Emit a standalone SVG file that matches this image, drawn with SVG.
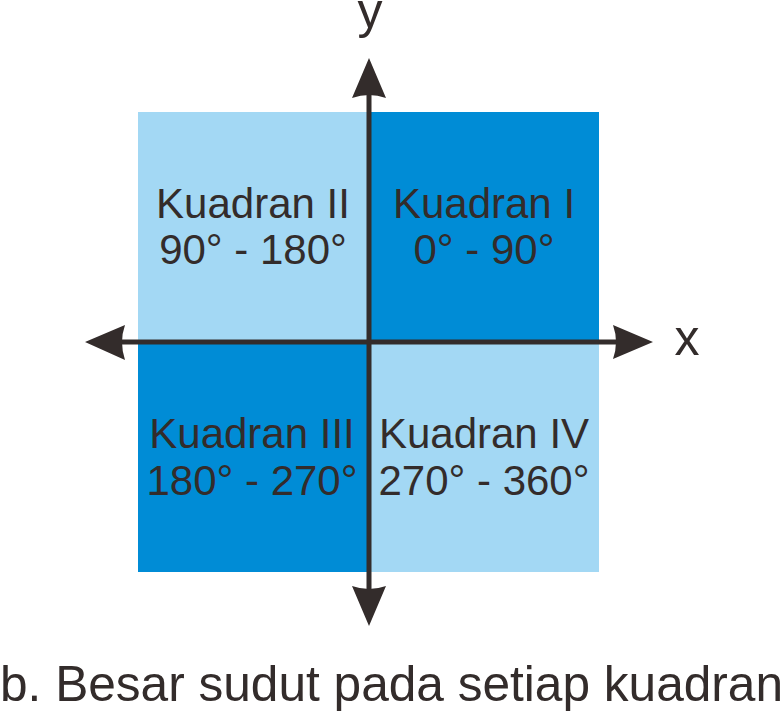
<svg xmlns="http://www.w3.org/2000/svg" width="784" height="711" viewBox="0 0 784 711">
<style>
.lbl{font-family:"Liberation Sans",Arial,sans-serif;font-size:42px;fill:#332c2b;text-anchor:middle}
.ax{font-family:"Liberation Sans",Arial,sans-serif;font-size:50px;fill:#332c2b;text-anchor:middle}
.cap{font-family:"Liberation Sans",Arial,sans-serif;font-size:50px;fill:#332c2b}
.light{fill:#a3d8f4}
.dark{fill:#008cd6}
.axis{stroke:#332c2b;stroke-width:5;fill:none}
.head{fill:#332c2b}
</style>
<rect width="784" height="711" fill="#ffffff"/>
<g id="q2"><rect class="light" x="138" y="112" width="231" height="230"/>
<text class="lbl" x="253" y="218">Kuadran II</text><text class="lbl" x="253" y="264">90° - 180°</text></g>
<g id="q1"><rect class="dark" x="369" y="112" width="230" height="230"/>
<text class="lbl" x="484" y="218">Kuadran I</text><text class="lbl" x="484" y="264">0° - 90°</text></g>
<g id="q3"><rect class="dark" x="138" y="342" width="231" height="230"/>
<text class="lbl" x="252" y="448">Kuadran III</text><text class="lbl" x="252" y="495">180° - 270°</text></g>
<g id="q4"><rect class="light" x="369" y="342" width="230" height="230"/>
<text class="lbl" x="484" y="448">Kuadran IV</text><text class="lbl" x="484" y="495">270° - 360°</text></g>
<g id="axes">
<line class="axis" x1="369" y1="90" x2="369" y2="595"/>
<line class="axis" x1="118" y1="342" x2="620" y2="342"/>
<path class="head" d="M369 58 L386 98 Q369 92 352 98 Z"/>
<path class="head" d="M369 626 L352 586 Q369 592 386 586 Z"/>
<path class="head" d="M85 342 L125 325 Q119 342 125 360 Z"/>
<path class="head" d="M653 342 L613 359 Q619 342 613 325 Z"/>
</g>
<g id="labels">
<text class="ax" x="370" y="28">y</text>
<text class="ax" x="687" y="355">x</text>
<text class="cap" x="0" y="701" textLength="783" lengthAdjust="spacingAndGlyphs">b. Besar sudut pada setiap kuadran</text>
</g>
</svg>
